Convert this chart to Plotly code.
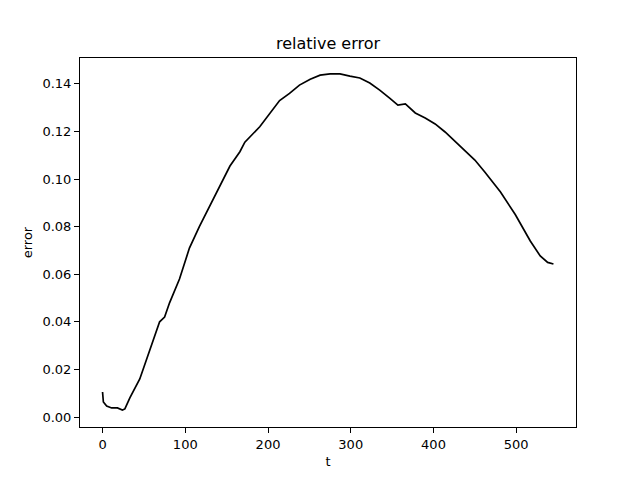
import plotly.graph_objects as go

# values
t = [0, 1, 5, 11, 18, 24, 27, 33, 45, 57, 69, 75, 81, 93, 105, 117, 130, 142, 148, 154,
     166, 172, 190, 202, 214, 226, 238, 251, 263, 275, 287, 299, 311, 323, 335, 347, 357,
     366, 378, 390, 402, 414, 432, 450, 462, 481, 499, 517, 529, 538, 545]
err = [0.0105, 0.0063, 0.0046, 0.0038, 0.0038, 0.0029, 0.0034, 0.008, 0.016, 0.028, 0.040,
       0.042, 0.048, 0.058, 0.071, 0.080, 0.089, 0.0975, 0.102, 0.1055, 0.1115, 0.1155,
       0.122, 0.1275, 0.133, 0.136, 0.1395, 0.142, 0.1437, 0.1442, 0.1442, 0.1433, 0.1425,
       0.1404, 0.1374, 0.134, 0.1311, 0.1316, 0.1278, 0.1257, 0.1232, 0.1198, 0.114, 0.108,
       0.103, 0.0946, 0.085, 0.074, 0.0677, 0.065, 0.0643]

fig = go.Figure()
fig.add_trace(go.Scatter(x=t, y=err, mode='lines', line={'color': 'black', 'width': 1.7}))

axis = dict(showline=True, linecolor='black', linewidth=1, mirror=True, ticks='outside',
            ticklen=5, tickcolor='black', showgrid=False, zeroline=False,
            tickfont={'size': 13, 'color': 'black'})
# the page puts an 8px body margin round the figure, so the margins make up for it
fig.update_layout(
    width=640, height=480,
    margin=dict(l=72, r=72, t=50, b=61),
    paper_bgcolor='white', plot_bgcolor='white',
    font={'family': 'DejaVu Sans', 'color': 'black'},
    title={'text': 'relative error', 'x': 0.5, 'xanchor': 'center', 'y': 0.927,
           'yanchor': 'middle', 'font': {'size': 16}},
    showlegend=False,
    xaxis=dict(axis, range=[-27.25, 572.25], tickvals=[0, 100, 200, 300, 400, 500],
               title={'text': 't', 'font': {'size': 13}, 'standoff': 6}),
    yaxis=dict(axis, range=[-0.0042, 0.1509], tickformat='.2f', dtick=0.02,
               title={'text': 'error', 'font': {'size': 13}, 'standoff': 6}),
)
fig.write_html("out.html")
